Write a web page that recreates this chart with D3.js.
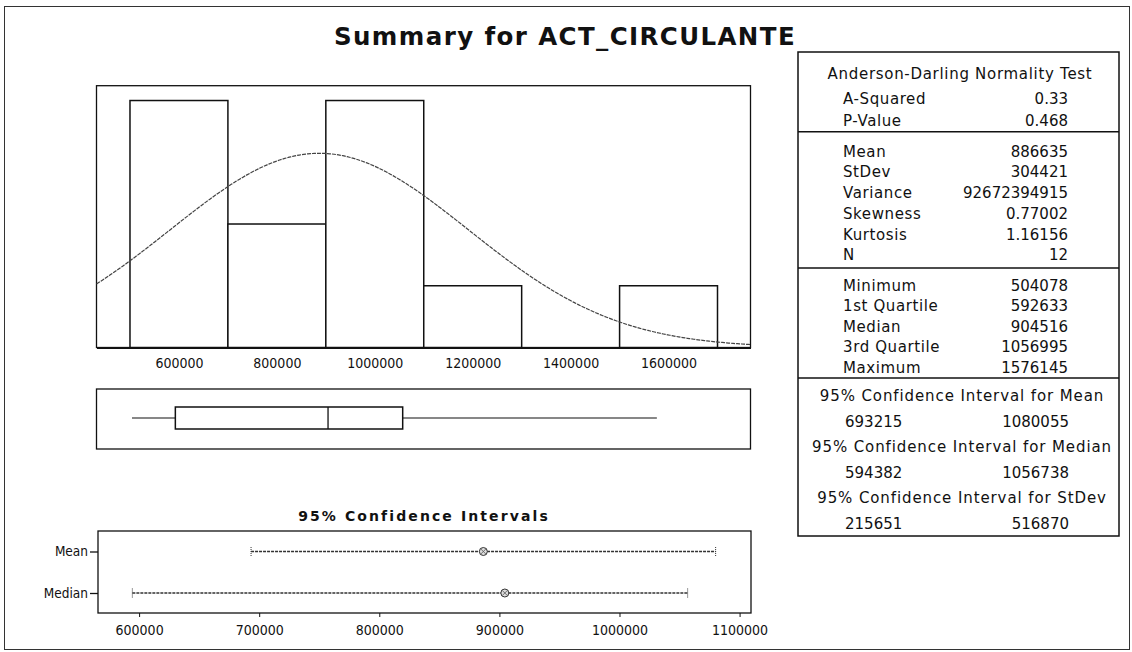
<!DOCTYPE html>
<html>
<head>
<meta charset="utf-8">
<script src="https://cdn.jsdelivr.net/npm/d3@7"></script>
<style>
html,body{margin:0;padding:0;background:#fff;}
svg{display:block;}
text{font-family:"DejaVu Sans","Verdana",sans-serif;fill:#111;}
.cond{font-stretch:condensed;}
</style>
</head>
<body>
<svg id="chart" width="1132" height="652"></svg>
<script>
// ---------------- data ----------------
const variableName = "ACT_CIRCULANTE";
const binStarts = [500000, 700000, 900000, 1100000, 1300000, 1500000];
const binCounts = [4, 2, 4, 1, 0, 1];
const binWidth = 200000;
const histTicks = [600000, 800000, 1000000, 1200000, 1400000, 1600000];

const meanValue = 886635;
const stdevValue = 304421;
const nValue = 12;

const boxStats = [504078, 592633, 904516, 1056995, 1576145]; // min, Q1, median, Q3, max

const ciNames = ["Mean", "Median"];
const ciCenters = [886635, 904516];
const ciLower = [693215, 594382];
const ciUpper = [1080055, 1056738];
const ciTicks = [600000, 700000, 800000, 900000, 1000000, 1100000];

const adLabels = ["A-Squared", "P-Value"];
const adValues = ["0.33", "0.468"];
const descLabels = ["Mean", "StDev", "Variance", "Skewness", "Kurtosis", "N"];
const descValues = ["886635", "304421", "92672394915", "0.77002", "1.16156", "12"];
const quantLabels = ["Minimum", "1st Quartile", "Median", "3rd Quartile", "Maximum"];
const quantValues = ["504078", "592633", "904516", "1056995", "1576145"];
const tableCiHeads = ["95% Confidence Interval for Mean", "95% Confidence Interval for Median", "95% Confidence Interval for StDev"];
const tableCiLow = ["693215", "594382", "215651"];
const tableCiHigh = ["1080055", "1056738", "516870"];

// ---------------- drawing ----------------
const svg = d3.select("#chart");

// outer frame
svg.append("rect").attr("x", 4.5).attr("y", 6.5).attr("width", 1125).attr("height", 643)
  .attr("fill", "none").attr("stroke", "#333").attr("stroke-width", 1);

// title
svg.append("text").attr("x", 565).attr("y", 45).attr("text-anchor", "middle")
  .style("font-size", "24.5px").style("font-weight", "bold").style("letter-spacing", "1.4px")
  .text("Summary for " + variableName);

// ---- histogram ----
const xH = d3.scaleLinear().domain([431600, 1767400]).range([96.5, 750.5]);
const yH = d3.scaleLinear().domain([0, 4.24]).range([347.5, 85.7]);

svg.append("rect").attr("x", xH.range()[0]).attr("y", yH.range()[1])
  .attr("width", xH.range()[1] - xH.range()[0]).attr("height", yH.range()[0] - yH.range()[1])
  .attr("fill", "none").attr("stroke", "#111").attr("stroke-width", 1.3);

const bins = binStarts.map((s, i) => ({s, c: binCounts[i]})).filter(d => d.c > 0);
svg.append("g").selectAll("rect").data(bins).join("rect")
  .attr("x", d => xH(d.s)).attr("width", d => xH(d.s + binWidth) - xH(d.s))
  .attr("y", d => yH(d.c)).attr("height", d => yH(0) - yH(d.c))
  .attr("fill", "#fff").attr("stroke", "#111").attr("stroke-width", 1.5);

// fitted normal curve (scaled to counts)
const scaleK = nValue * binWidth / (stdevValue * Math.sqrt(2 * Math.PI));
const dom = xH.domain();
const xs = d3.range(dom[0], dom[1], (dom[1] - dom[0]) / 300).concat([dom[1]]);
const line = d3.line().x(d => xH(d)).y(d => yH(scaleK * Math.exp(-0.5 * Math.pow((d - meanValue) / stdevValue, 2))));
svg.append("path").datum(xs).attr("d", line).attr("fill", "none")
  .attr("stroke", "#444").attr("stroke-width", 1.2).attr("stroke-dasharray", "4,1");

const gxH = svg.append("g").attr("transform", `translate(0,${yH(0)})`)
  .call(d3.axisBottom(xH).tickValues(histTicks).tickSize(0).tickPadding(10.5).tickFormat(d3.format("d")));
gxH.select(".domain").attr("stroke", "#111").attr("stroke-width", 2);
gxH.selectAll("text").attr("class", "cond").style("font-size", "14px").style("font-family", "'DejaVu Sans Condensed','DejaVu Sans',sans-serif").attr("fill", "#111");

// ---- boxplot ----
const bTop = 389, bBot = 449, bMid = 418, bH = 11;
svg.append("rect").attr("x", xH.range()[0]).attr("y", bTop)
  .attr("width", xH.range()[1] - xH.range()[0]).attr("height", bBot - bTop)
  .attr("fill", "none").attr("stroke", "#111").attr("stroke-width", 1.3);
const [bMin, bQ1, bMed, bQ3, bMax] = boxStats;
const gB = svg.append("g").attr("stroke", "#111");
gB.append("line").attr("x1", xH(bMin)).attr("x2", xH(bQ1)).attr("y1", bMid).attr("y2", bMid).attr("stroke-width", 1.2);
gB.append("line").attr("x1", xH(bQ3)).attr("x2", xH(bMax)).attr("y1", bMid).attr("y2", bMid).attr("stroke-width", 1.2);
gB.append("rect").attr("x", xH(bQ1)).attr("width", xH(bQ3) - xH(bQ1)).attr("y", bMid - bH).attr("height", 2 * bH)
  .attr("fill", "#fff").attr("stroke-width", 1.5);
gB.append("line").attr("x1", xH(bMed)).attr("x2", xH(bMed)).attr("y1", bMid - bH).attr("y2", bMid + bH).attr("stroke-width", 1.3);

// ---- confidence intervals plot ----
svg.append("text").attr("x", 424).attr("y", 520.5).attr("text-anchor", "middle")
  .style("font-size", "14px").style("font-weight", "bold").style("letter-spacing", "2.1px")
  .text("95% Confidence Intervals");

const xC = d3.scaleLinear().domain([565779, 1109500]).range([98, 751]);
const yC = d3.scalePoint().domain(ciNames).range([551.5, 593]);
const cTop = 531, cBot = 613;
svg.append("rect").attr("x", xC.range()[0]).attr("y", cTop)
  .attr("width", xC.range()[1] - xC.range()[0]).attr("height", cBot - cTop)
  .attr("fill", "none").attr("stroke", "#111").attr("stroke-width", 1.3);

const ciData = ciNames.map((n, i) => ({n, c: ciCenters[i], lo: ciLower[i], hi: ciUpper[i]}));
const gCI = svg.append("g").selectAll("g").data(ciData).join("g");
gCI.append("line").attr("x1", d => xC(d.lo)).attr("x2", d => xC(d.hi))
  .attr("y1", d => yC(d.n)).attr("y2", d => yC(d.n))
  .attr("stroke", "#333").attr("stroke-width", 1.3).attr("stroke-dasharray", "3,1");
gCI.append("line").attr("x1", d => xC(d.lo)).attr("x2", d => xC(d.lo))
  .attr("y1", d => yC(d.n) - 4.5).attr("y2", d => yC(d.n) + 4.5).attr("stroke", "#333").attr("stroke-dasharray", "1,1");
gCI.append("line").attr("x1", d => xC(d.hi)).attr("x2", d => xC(d.hi))
  .attr("y1", d => yC(d.n) - 4.5).attr("y2", d => yC(d.n) + 4.5).attr("stroke", "#333").attr("stroke-dasharray", "1,1");
gCI.append("circle").attr("cx", d => xC(d.c)).attr("cy", d => yC(d.n)).attr("r", 4)
  .attr("fill", "#ddd").attr("stroke", "#333").attr("stroke-width", 1);
gCI.append("path").attr("d", d => `M${xC(d.c) - 2.6},${yC(d.n) - 2.6}L${xC(d.c) + 2.6},${yC(d.n) + 2.6}M${xC(d.c) - 2.6},${yC(d.n) + 2.6}L${xC(d.c) + 2.6},${yC(d.n) - 2.6}`)
  .attr("stroke", "#555").attr("stroke-width", 0.8);

const gyC = svg.append("g").attr("transform", `translate(${xC.range()[0]},0)`)
  .call(d3.axisLeft(yC).tickSize(8).tickPadding(2));
gyC.select(".domain").remove();
gyC.selectAll("line").attr("stroke", "#111").attr("stroke-width", 1.3);
gyC.selectAll("text").style("font-size", "13.5px").style("font-family", "'DejaVu Sans Condensed','DejaVu Sans',sans-serif").attr("fill", "#111");

const gxC = svg.append("g").attr("transform", `translate(0,${cBot})`)
  .call(d3.axisBottom(xC).tickValues(ciTicks).tickSize(4).tickPadding(8).tickFormat(d3.format("d")));
gxC.select(".domain").remove();
gxC.selectAll("line").attr("stroke", "#111");
gxC.selectAll("text").style("font-size", "14px").style("font-family", "'DejaVu Sans Condensed','DejaVu Sans',sans-serif").attr("fill", "#111");

// ---- statistics table ----
const tL = 798, tR = 1119, tT = 52, tB = 536;
const seps = [131.7, 268, 378];
svg.append("rect").attr("x", tL).attr("y", tT).attr("width", tR - tL).attr("height", tB - tT)
  .attr("fill", "none").attr("stroke", "#111").attr("stroke-width", 1.5);
svg.append("g").selectAll("line").data(seps).join("line")
  .attr("x1", tL).attr("x2", tR).attr("y1", d => d).attr("y2", d => d)
  .attr("stroke", "#111").attr("stroke-width", 1.5);

const labX = 843, valX = 1068;
const tg = svg.append("g").style("font-size", "15px");
function rows(labels, values, y0, dy, ls) {
  labels.forEach((l, i) => {
    tg.append("text").attr("x", labX).attr("y", y0 + i * dy).style("letter-spacing", ls).text(l);
    tg.append("text").attr("x", valX).attr("y", y0 + i * dy).attr("text-anchor", "end").text(values[i]);
  });
}
tg.append("text").attr("x", 960).attr("y", 79.3).attr("text-anchor", "middle").style("letter-spacing", "0.7px")
  .text("Anderson-Darling Normality Test");
rows(adLabels, adValues, 104.3, 21.7, "0.6px");
rows(descLabels, descValues, 156.7, 20.7, "0.6px");
rows(quantLabels, quantValues, 290.7, 20.5, "0.6px");
tableCiHeads.forEach((h, i) => {
  const y = 401 + i * 51.2;
  tg.append("text").attr("x", 962).attr("y", y).attr("text-anchor", "middle").style("letter-spacing", "0.9px").text(h);
  tg.append("text").attr("x", 845).attr("y", y + 25.5).text(tableCiLow[i]);
  tg.append("text").attr("x", 1069).attr("y", y + 25.5).attr("text-anchor", "end").text(tableCiHigh[i]);
});
</script>
</body>
</html>
